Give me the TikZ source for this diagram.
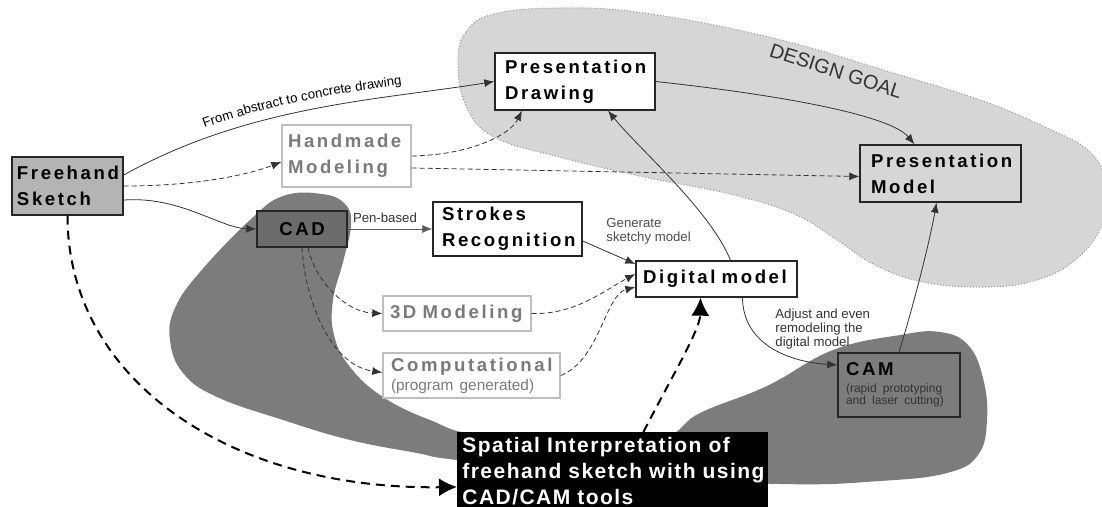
\documentclass[tikz,border=0pt]{standalone}
\usepackage{fontspec}
\setmainfont{Liberation Sans}
\newfontfamily\boxfont{Liberation Sans}[LetterSpace=14]
\newfontfamily\widefont{Liberation Sans}[LetterSpace=7]
\usepackage{xcolor}
\usetikzlibrary{arrows.meta,decorations.text}

\definecolor{goalgray}{RGB}{214,214,214}
\definecolor{goalline}{RGB}{150,150,150}
\definecolor{toolgray}{RGB}{124,124,124}
\definecolor{sketchgray}{RGB}{180,180,180}
\definecolor{cadgray}{RGB}{108,108,108}
\definecolor{palegray}{RGB}{122,122,122}
\definecolor{paleline}{RGB}{190,190,190}

\hyphenpenalty=10000
\exhyphenpenalty=10000
\newcommand\boxtext{\boxfont\bfseries\fontsize{9.3}{13}\selectfont}
\newcommand\notetext{\normalfont\fontsize{6.6}{7}\selectfont}
\newcommand\progtext{\normalfont\fontsize{7.7}{9.5}\selectfont}
\newcommand\camtext{\normalfont\fontsize{6}{6.2}\selectfont\color{black!80}}
\newcommand\spatialtext{\widefont\bfseries\fontsize{10.5}{13}\selectfont}

\begin{document}
\begin{tikzpicture}[x=0.5pt,y=-0.5pt,>={Latex[length=5pt,width=4pt]},
   bx/.style={draw=black!85,line width=0.7pt,align=left,inner ysep=0pt,font=\boxtext},
   pale/.style={bx,draw=paleline,text=palegray,fill=white},
   wh/.style n args={3}{inner xsep=#3*0.5pt,text width=#1*0.5pt-#3*1pt,minimum height=#2*0.5pt},
   lnk/.style={->,line width=0.4pt,black!80},
   dlnk/.style={lnk,dash pattern=on 2.5pt off 1.5pt},
   bigdash/.style={line width=1pt,dash pattern=on 4.5pt off 3pt,-{Latex[length=9pt,width=9pt]}},
   note/.style={font=\notetext,align=left,inner sep=0pt,text=black!80}]
  \useasboundingbox (0,0) rectangle (1102,507);
  \clip (0,0) rectangle (1102,507);
  % regions
  \filldraw[fill=goalgray,draw=goalline,densely dotted,line width=0.5pt] plot[smooth cycle,tension=0.7] coordinates {
    (458,62) (466,32) (494,14) (559,8) (644,13) (773,38) (890,72) (980,100) (1045,127) (1090,152)
    (1106,185) (1104,220) (1080,256) (1040,279) (987,287) (923,282) (875,265) (837,240) (794,214)
    (730,194) (644,177) (559,157) (494,137) (466,106)};
  \fill[toolgray] plot[smooth cycle,tension=0.7] coordinates {
    (283,196) (322,194) (345,204) (351,225) (343,262) (333,300) (334,335) (350,367) (383,397)
    (430,420) (480,435) (600,442) (665,437) (700,413) (767,386) (833,350) (900,335) (940,332)
    (968,345) (983,378) (987,420) (978,455) (947,473) (880,481) (780,484) (600,475) (457,460)
    (417,453) (350,440) (283,420) (217,397) (183,373) (170,340) (175,308) (200,272) (250,220)};
  \node[note,font=\fontsize{10}{12}\selectfont,rotate=-18] (goal) at (836,71) {DESIGN GOAL};

  % boxes
  \node[bx,fill=sketchgray,wh={111}{58}{5}] (fh) at (67.5,186) {Freehand\\Sketch};
  \node[pale,wh={129}{62}{6}] (hm) at (346.5,156) {Handmade\\Modeling};
  \node[bx,fill=white,wh={160}{57}{10}] (pd) at (575,81.5) {Presentation\\Drawing};
  \node[bx,wh={161}{57}{11}] (pm) at (940.5,173.5) {Presentation\\Model};
  \node[bx,fill=cadgray,align=center,wh={90}{36}{0}] (cad) at (302,229) {CAD};
  \node[bx,fill=white,wh={149}{54}{9}] (sr) at (507.5,229) {Strokes\\Recognition};
  \node[pale,wh={148}{35}{7}] (tdm) at (457,313.5) {3D Modeling};
  \node[pale,wh={177}{45}{8}] (comp) at (471.5,375.5) {Computational\par{\progtext (program generated)\par}};
  \node[bx,fill=white,wh={161}{36}{7}] (dm) at (716.5,279) {Digital model};
  \node[bx,fill=toolgray,wh={122}{64}{8}] (cam) at (899,385) {CAM\par\vspace{2pt}{\camtext (rapid prototyping\\and laser cutting)\par}};
  \node[fill=black,text=white,font=\spatialtext,align=left,anchor=north west,inner xsep=2.5pt,
        inner ysep=2pt,text width=150.5pt,text height=8pt,text depth=40pt] (si) at (457,432)
        {\mbox{Spatial Interpretation of}\\\mbox{freehand sketch with using}\\\mbox{CAD/CAM tools}};

  % labels
  \node[note,text=black!70,anchor=west] (gen) at (606,231) {Generate\\sketchy model};
  \node[note,anchor=west] (adj) at (775,329) {Adjust and even\\remodeling the\\digital model};

  % connectors
  \draw[lnk,postaction={decorate,decoration={text along path,text align=center,raise=5pt,
        text={|\notetext|From abstract to concrete drawing}}}]
    ([yshift=5.5pt]fh.east) .. controls (250,105) and (380,100) .. (pd.west);
  \draw[dlnk] (fh.east) .. controls (200,186) and (250,174) .. ([yshift=-3pt]hm.west);
  \draw[dlnk] (hm.east) .. controls (470,155) and (510,135) .. ([xshift=-26.5pt]pd.south);
  \draw[dlnk] ([yshift=-6pt]hm.east) -- ([yshift=-1.5pt]pm.west);
  \draw[lnk] ([yshift=-7pt]fh.east) .. controls (180,196) and (220,228) .. (cad.west);
  \draw[bigdash] (fh.south) .. controls (67.5,380) and (230,490) .. ([yshift=-27.5pt]si.north west);
  \draw[lnk,black!65] (cad.east) -- (sr.west) node[note,above=3pt,pos=0.44] (pen) {Pen-based};
  \draw[dlnk] ([xshift=3pt]cad.south) .. controls (315,280) and (345,312) .. (tdm.west);
  \draw[dlnk] (cad.south) .. controls (305,300) and (330,365) .. ([yshift=1.5pt]comp.west);
  \draw[lnk] ([yshift=-6pt]sr.east) -- ([yshift=7.5pt]dm.west);
  \draw[dlnk] (tdm.east) .. controls (575,315) and (605,290) .. ([yshift=2.5pt]dm.west);
  \draw[dlnk] (comp.east) .. controls (600,360) and (605,295) .. ([yshift=-4pt]dm.west);
  \draw[lnk] ([xshift=7pt]dm.north) .. controls (710,210) and (640,150) .. ([xshift=16.5pt]pd.south);
  \draw[lnk] (pd.east) .. controls (780,95) and (890,115) .. ([xshift=-13pt]pm.north);
  \draw[lnk] ([xshift=13pt]dm.south) .. controls (743,345) and (790,362) .. ([yshift=10pt]cam.west);
  \draw[lnk] (cam.north) .. controls (915,300) and (930,240) .. ([xshift=-2pt]pm.south);
  \draw[bigdash] ([xshift=15.25pt]si.north) .. controls (670,380) and (700,330) .. ([xshift=-8pt]dm.south);
\end{tikzpicture}
\end{document}
